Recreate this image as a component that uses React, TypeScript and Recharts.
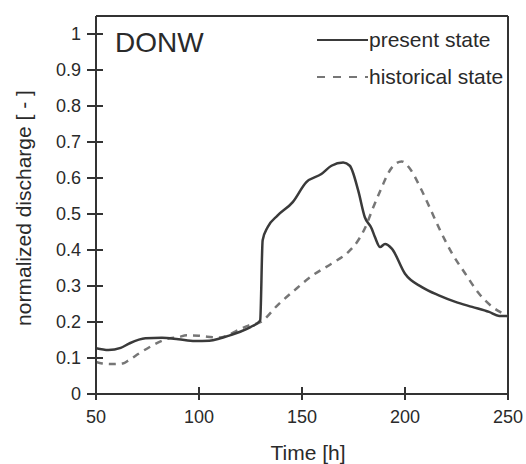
import React from 'react';
import { LineChart, Line, XAxis, YAxis, ReferenceLine, Customized } from 'recharts';

const presentTime = [50, 56, 62, 66, 74, 82, 90, 98, 105, 110, 115, 120, 125, 129, 129.7, 130.9, 133.3, 138.2, 145.5, 152, 159.4, 164.3, 170, 173.2, 177.3, 180.5, 183.8, 185.4, 187.9, 190.3, 193.6, 200, 208.2, 216.4, 224.5, 232.6, 240.8, 245.7, 250];
const presentValue = [0.127, 0.122, 0.128, 0.14, 0.155, 0.156, 0.152, 0.147, 0.148, 0.154, 0.163, 0.173, 0.186, 0.2, 0.205, 0.427, 0.463, 0.496, 0.533, 0.588, 0.611, 0.634, 0.643, 0.634, 0.565, 0.491, 0.46, 0.436, 0.408, 0.417, 0.404, 0.334, 0.297, 0.274, 0.256, 0.242, 0.228, 0.217, 0.217];

const historicalTime = [50, 53, 58, 63, 66, 71, 77.8, 84, 90, 94, 100, 104, 110, 114, 118, 124, 130, 138.2, 146.3, 155.3, 164.3, 172.4, 177.3, 181.3, 184, 188.7, 192, 195.5, 198.4, 202.5, 207.4, 212.3, 217.1, 222.9, 229.3, 235.9, 242.4, 248.9, 250];
const historicalValue = [0.089, 0.085, 0.083, 0.085, 0.094, 0.113, 0.136, 0.152, 0.158, 0.163, 0.162, 0.159, 0.157, 0.163, 0.175, 0.19, 0.2, 0.247, 0.288, 0.33, 0.362, 0.394, 0.427, 0.47, 0.51, 0.574, 0.615, 0.64, 0.646, 0.625, 0.574, 0.514, 0.454, 0.39, 0.334, 0.279, 0.242, 0.219, 0.215];

const xTicks = [50, 100, 150, 200, 250];
const yTicks = [0, 0.1, 0.2, 0.3, 0.4, 0.5, 0.6, 0.7, 0.8, 0.9, 1];
const xDomain = [50, 250];
const yDomain = [0, 1.05];
const seriesNames = ['present state', 'historical state'];
const panelTitle = 'DONW';
const xLabel = 'Time [h]';
const yLabel = 'normalized discharge [ - ]';

const presentData = presentTime.map((t, i) => ({ t, v: presentValue[i] }));
const historicalData = historicalTime.map((t, i) => ({ t, v: historicalValue[i] }));

// layout
const W = 526;
const H = 464;
const MARGIN = { top: 16, right: 18, bottom: 0, left: 0 };
const Y_AXIS_W = 96;
const X_AXIS_H = 70;
const plotLeft = MARGIN.left + Y_AXIS_W;
const plotRight = W - MARGIN.right;
const plotTop = MARGIN.top;
const plotBottom = H - MARGIN.bottom - X_AXIS_H;
const sx = (v: number) => plotLeft + ((v - xDomain[0]) / (xDomain[1] - xDomain[0])) * (plotRight - plotLeft);
const sy = (v: number) => plotBottom - ((v - yDomain[0]) / (yDomain[1] - yDomain[0])) * (plotBottom - plotTop);

const FONT = '"Liberation Sans", Arial, Helvetica, sans-serif';
const AXIS = '#333';
const TEXT = '#2a2a2a';
const SOLID = '#3a3a3a';
const DASHED = '#767676';

const renderYTick = (props: any) => {
  const x = Number(props.x);
  const y = Number(props.y);
  return (
    <text key={`yt-${props.index}`} x={x - 15} y={y} dy="0.36em" textAnchor="end" fontSize={18} fontFamily={FONT} fill={TEXT}>
      {String(props.payload.value)}
    </text>
  );
};

const renderXTick = (props: any) => {
  const x = Number(props.x);
  const y = Number(props.y);
  return (
    <text key={`xt-${props.index}`} x={x} y={y + 29} textAnchor="middle" fontSize={18} fontFamily={FONT} fill={TEXT}>
      {String(props.payload.value)}
    </text>
  );
};

const XLabel = (props: any) => {
  const vb = props.viewBox || {};
  return (
    <text x={vb.x + vb.width / 2 + 6} y={vb.y + 66} textAnchor="middle" fontSize={21} fontFamily={FONT} fill={TEXT}>
      {xLabel}
    </text>
  );
};

const YLabel = (props: any) => {
  const vb = props.viewBox || {};
  const cx = vb.x + 31;
  const cy = vb.y + vb.height / 2 + 3;
  return (
    <text x={cx} y={cy} transform={`rotate(-90, ${cx}, ${cy})`} textAnchor="middle" fontSize={21} fontFamily={FONT} fill={TEXT}>
      {yLabel}
    </text>
  );
};

const Decorations = () => (
  <g fontFamily={FONT}>
    {yTicks.map((v) => (
      <line key={`ytl-${v}`} x1={plotLeft - 9} x2={plotLeft + 7} y1={sy(v)} y2={sy(v)} stroke={AXIS} strokeWidth={2} />
    ))}
    {xTicks.map((v) => (
      <line key={`xtl-${v}`} x1={sx(v)} x2={sx(v)} y1={plotBottom - 7} y2={plotBottom + 6} stroke={AXIS} strokeWidth={2} />
    ))}
    <text x={115} y={52} fontSize={28} fill={TEXT}>{panelTitle}</text>
    <line x1={317} x2={368} y1={40} y2={40} stroke={SOLID} strokeWidth={2} />
    <text x={369} y={47} fontSize={21} fill={TEXT}>{seriesNames[0]}</text>
    <line x1={317} x2={368} y1={77} y2={77} stroke={DASHED} strokeWidth={2} strokeDasharray="8 8" />
    <text x={369} y={84} fontSize={21} fill={TEXT}>{seriesNames[1]}</text>
  </g>
);

export default function App() {
  return (
    <div style={{ position: 'absolute', left: 0, top: 0, width: W, height: H, background: '#fff' }}>
      <LineChart width={W} height={H} margin={MARGIN}>
        <XAxis
          dataKey="t"
          type="number"
          domain={xDomain}
          ticks={xTicks}
          allowDataOverflow
          height={X_AXIS_H}
          tickSize={0}
          tickMargin={0}
          tickLine={false}
          axisLine={{ stroke: AXIS, strokeWidth: 2 }}
          tick={renderXTick}
          label={<XLabel />}
        />
        <YAxis
          dataKey="v"
          type="number"
          domain={yDomain}
          ticks={yTicks}
          allowDataOverflow
          width={Y_AXIS_W}
          tickSize={0}
          tickMargin={0}
          tickLine={false}
          axisLine={{ stroke: AXIS, strokeWidth: 2 }}
          tick={renderYTick}
          label={<YLabel />}
        />
        <ReferenceLine y={yDomain[1]} stroke={AXIS} strokeWidth={2} />
        <ReferenceLine x={xDomain[1]} stroke={AXIS} strokeWidth={2} />
        <Line
          data={historicalData}
          dataKey="v"
          type="monotone"
          stroke={DASHED}
          strokeWidth={2.5}
          strokeDasharray="7 6"
          dot={false}
          activeDot={false}
          isAnimationActive={false}
        />
        <Line
          data={presentData}
          dataKey="v"
          type="monotone"
          stroke={SOLID}
          strokeWidth={2.5}
          dot={false}
          activeDot={false}
          isAnimationActive={false}
        />
        <Customized component={Decorations} />
      </LineChart>
    </div>
  );
}
